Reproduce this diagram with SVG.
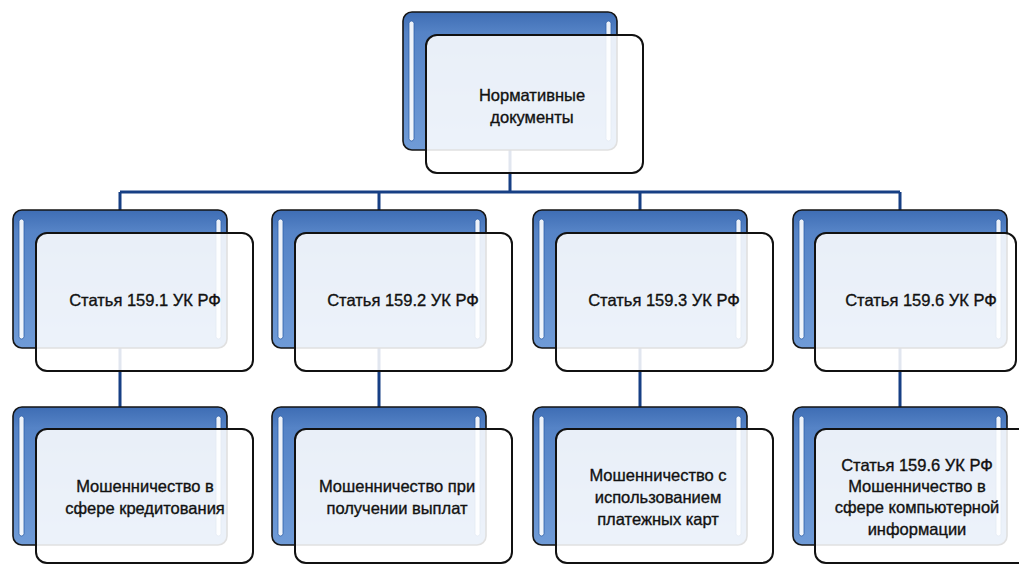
<svg xmlns="http://www.w3.org/2000/svg" width="1019" height="565" viewBox="0 0 1019 565">
<defs>
<linearGradient id="bg" x1="0" y1="0" x2="0" y2="1">
<stop offset="0" stop-color="#3e6db4"/>
<stop offset="0.15" stop-color="#5583c6"/>
<stop offset="1" stop-color="#6f9bd7"/>
</linearGradient>
<g id="card">
<rect class="back" x="0" y="0" width="214" height="138" rx="9"/>
<rect class="hl" x="6" y="9" width="5" height="120" rx="2.5"/>
<rect class="hl" x="203" y="9" width="5" height="120" rx="2.5"/>
</g>
</defs>
<style>
.back{fill:url(#bg);stroke:#151515;stroke-width:1.6}
.hl{fill:#ffffff;fill-opacity:0.9;stroke:#2f5fa8;stroke-width:0.8}
.front{fill:#ffffff;fill-opacity:0.87;stroke:#111111;stroke-width:2}
.conn{stroke:#173f84;stroke-width:3;fill:none}
text{font-family:"Liberation Sans","DejaVu Sans",sans-serif;font-size:16.5px;fill:#111111;stroke:#111111;stroke-width:0.35;text-anchor:middle}
</style>
<rect width="1019" height="565" fill="#ffffff"/>
<g id="connectors">
<path class="conn" d="M510 150 V192 M120 192 H900 M120 192 V210 M379 192 V210 M640 192 V210 M900 192 V210"/>
<path class="conn" d="M120 348 V407 M379 348 V407 M640 348 V407 M900 348 V407"/>
</g>
<g id="n0">
<use href="#card" x="403" y="12"/>
<rect class="front" x="426" y="35" width="217" height="138" rx="11"/>
<text x="532" y="101">Нормативные</text>
<text x="532" y="123">документы</text>
</g>
<g id="n1">
<use href="#card" x="13" y="210"/>
<rect class="front" x="36" y="233" width="217" height="138" rx="11"/>
<text x="145" y="306">Статья 159.1 УК РФ</text>
</g>
<g id="n2">
<use href="#card" x="272" y="210"/>
<rect class="front" x="295" y="233" width="217" height="138" rx="11"/>
<text x="403" y="306">Статья 159.2 УК РФ</text>
</g>
<g id="n3">
<use href="#card" x="533" y="210"/>
<rect class="front" x="556" y="233" width="217" height="138" rx="11"/>
<text x="664" y="306">Статья 159.3 УК РФ</text>
</g>
<g id="n4">
<use href="#card" x="793" y="210"/>
<rect class="front" x="815" y="233" width="201" height="138" rx="11"/>
<text x="921" y="306">Статья 159.6 УК РФ</text>
</g>
<g id="n5">
<use href="#card" x="13" y="407"/>
<rect class="front" x="36" y="429" width="217" height="134" rx="11"/>
<text x="145" y="492">Мошенничество в</text>
<text x="145" y="514">сфере кредитования</text>
</g>
<g id="n6">
<use href="#card" x="272" y="407"/>
<rect class="front" x="295" y="429" width="217" height="134" rx="11"/>
<text x="397" y="492">Мошенничество при</text>
<text x="397" y="514">получении выплат</text>
</g>
<g id="n7">
<use href="#card" x="533" y="407"/>
<rect class="front" x="556" y="429" width="217" height="134" rx="11"/>
<text x="658" y="481">Мошенничество с</text>
<text x="658" y="503">использованием</text>
<text x="658" y="525">платежных карт</text>
</g>
<g id="n8">
<use href="#card" x="793" y="407"/>
<rect class="front" x="815" y="429" width="214" height="134" rx="11"/>
<text x="917" y="471">Статья 159.6 УК РФ</text>
<text x="917" y="492">Мошенничество в</text>
<text x="917" y="513">сфере компьютерной</text>
<text x="917" y="535">информации</text>
</g>
</svg>
